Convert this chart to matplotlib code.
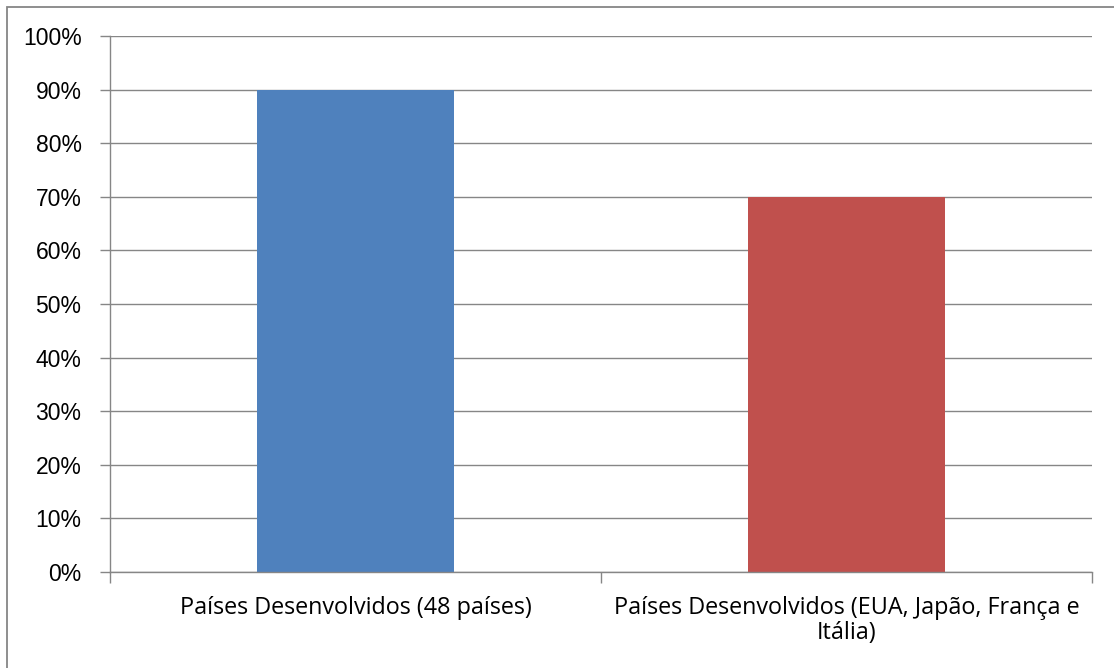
import matplotlib.pyplot as plt
from matplotlib.patches import Rectangle
from matplotlib.ticker import PercentFormatter

# data
categorias = ['Países Desenvolvidos (48 países)',
              'Países Desenvolvidos (EUA, Japão, França e\nItália)']
valores = [0.90, 0.70]
cores = ['#4F81BD', '#C0504D']
yticks = [0.0, 0.1, 0.2, 0.3, 0.4, 0.5, 0.6, 0.7, 0.8, 0.9, 1.0]

fig = plt.figure(figsize=(11.14, 6.68), dpi=100)
ax = fig.add_axes([110/1114, 1 - 572/668, (1092 - 110)/1114, (572 - 36)/668])

x = list(range(len(categorias)))
ax.bar(x, valores, width=0.40, color=cores, zorder=2)

ax.set_xlim(-0.5, len(categorias) - 0.5)
ax.set_ylim(0, 1)
ax.set_yticks(yticks)
ax.yaxis.set_major_formatter(PercentFormatter(1.0, decimals=0))

# category ticks at the boundaries, labels in the middle
ax.set_xticks([-0.5, 0.5, 1.5])
ax.set_xticklabels([])
ax.set_xticks(x, minor=True)
ax.set_xticklabels(categorias, minor=True, fontsize=16.8, family='Open Sans',
                   linespacing=1.1)
ax.tick_params(axis='x', which='minor', length=0, pad=17)
ax.tick_params(axis='x', which='major', length=8, width=1, color='#868686')
ax.tick_params(axis='y', length=7, width=1, color='#868686', labelsize=16.5,
               pad=13.5)
for lab in ax.get_yticklabels():
    lab.set_family('Liberation Sans')

ax.grid(axis='y', color='#868686', linewidth=1, zorder=1)
ax.set_axisbelow(True)
for s in ['top', 'right']:
    ax.spines[s].set_visible(False)
for s in ['left', 'bottom']:
    ax.spines[s].set_color('#868686')
    ax.spines[s].set_linewidth(1)

# chart border (only left and top edges fall inside the image)
fig.patches.append(Rectangle((7/1114, -10/668), 1130/1114, 671/668,
                             transform=fig.transFigure, fill=False,
                             edgecolor='#868686', linewidth=1.3))

fig.savefig('out.png', dpi=100)
